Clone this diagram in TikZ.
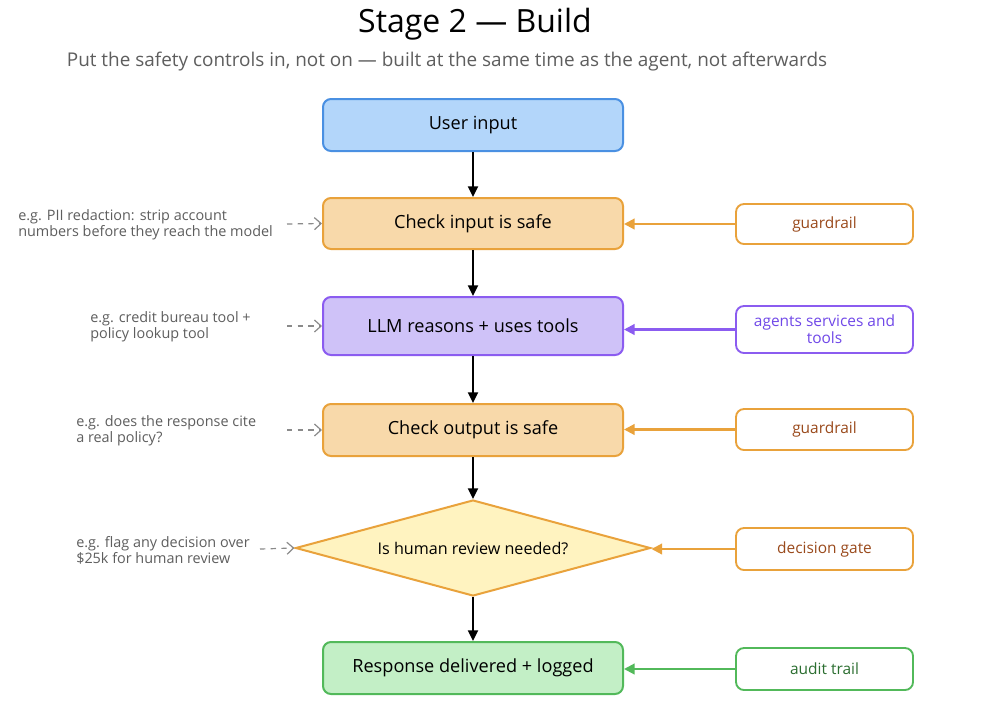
\documentclass[tikz,border=0pt]{standalone}
\usepackage{fontspec}
\setmainfont{Open Sans}
\usetikzlibrary{arrows.meta,shapes.geometric,calc}
\definecolor{bluefill}{HTML}{B3D6FA}
\definecolor{blueline}{HTML}{4A90E2}
\definecolor{orfill}{HTML}{F8D9AA}
\definecolor{orline}{HTML}{E9A23B}
\definecolor{pufill}{HTML}{CFC2F8}
\definecolor{puline}{HTML}{8B5CF0}
\definecolor{yefill}{HTML}{FFF3C0}
\definecolor{grfill}{HTML}{C3EFC6}
\definecolor{grline}{HTML}{52B95A}
\definecolor{browntxt}{HTML}{9A4A1C}
\definecolor{putxt}{HTML}{7048E8}
\definecolor{grtxt}{HTML}{2B6E30}
\definecolor{graytxt}{HTML}{5E5E5E}
\definecolor{grayarr}{HTML}{8A8A8A}
\tikzset{
  x=0.75pt, y=-0.75pt,
  mainbox/.style={draw, rounded corners=6pt, line width=1.5pt, minimum width=225pt, inner sep=0pt, font=\fontsize{13.6}{16}\selectfont},
  sidebox/.style={draw, fill=white, rounded corners=6pt, line width=1.4pt, minimum width=132.75pt, inner sep=0pt, align=center, font=\fontsize{11.6}{12.8}\selectfont},
  annot/.style={anchor=west, align=left, inner sep=0pt, text=graytxt, font=\fontsize{10.8}{12}\selectfont},
  flow/.style={-{Triangle[length=8pt,width=7.5pt]}, line width=1.6pt, black},
  side/.style={-{Triangle[length=8pt,width=8pt]}, line width=1.6pt},
  hint/.style={-{Straight Barb[length=5pt,width=9pt]}, line width=0.9pt, grayarr, dash pattern=on 4pt off 4pt},
}
\begin{document}
\begin{tikzpicture}
\useasboundingbox[fill=white] (0,0) rectangle (999,719);
% title
\node[font=\fontsize{24}{28}\selectfont] (title) at (475,24) {Stage 2 — Build};
\node[text=graytxt, font=\fontsize{14.2}{16}\selectfont] (subtitle) at (447,62) {Put the safety controls in, not on — built at the same time as the agent, not afterwards};
% main flow
\node[mainbox, fill=bluefill, draw=blueline, minimum height=39pt] (user) at (473,125) {User input};
\node[mainbox, fill=orfill, draw=orline, minimum height=38.25pt] (chkin) at (473,223.5) {Check input is safe};
\node[mainbox, fill=pufill, draw=puline, minimum height=43.5pt] (llm) at (473,326) {LLM reasons + uses tools};
\node[mainbox, fill=orfill, draw=orline, minimum height=39pt] (chkout) at (473,430) {Check output is safe};
\node[diamond, draw=orline, fill=yefill, line width=1.5pt, inner sep=0pt, minimum width=266.25pt, minimum height=72pt, aspect=3.7, font=\fontsize{12.1}{14}\selectfont] (gate) at (473,548) {Is human review needed?};
\node[mainbox, fill=grfill, draw=grline, minimum height=39pt] (resp) at (473,668) {Response delivered + logged};
\draw[flow] (user) -- (chkin);
\draw[flow] (chkin) -- (llm);
\draw[flow] (llm) -- (chkout);
\draw[flow] (chkout) -- (gate);
\draw[flow] (gate) -- (resp);
% side boxes
\node[sidebox, draw=orline, text=browntxt, minimum height=30pt] (g1) at (824.5,224) {guardrail};
\node[sidebox, draw=puline, text=putxt, minimum height=35.25pt] (tools) at (824.5,329.5) {agents services and\\tools};
\node[sidebox, draw=orline, text=browntxt, minimum height=30.75pt] (g2) at (824.5,429.5) {guardrail};
\node[sidebox, draw=orline, text=browntxt, minimum height=31.5pt] (dg) at (824.5,549) {decision gate};
\node[sidebox, draw=grline, text=grtxt, minimum height=31.5pt] (audit) at (824.5,669) {audit trail};
\draw[side, orline] (g1.west) -- (g1.west -| chkin.east);
\draw[side, puline] (tools.west) -- (tools.west -| llm.east);
\draw[side, orline] (g2.west) -- (g2.west -| chkout.east);
\draw[side, orline] (dg.west) -- (dg.west -| gate.east);
\draw[side, grline] (audit.west) -- (audit.west -| resp.east);
% annotations
\node[annot] (a1) at (18,225) {e.g. PII redaction: strip account\\numbers before they reach the model};
\node[annot] (a2) at (90,327) {e.g. credit bureau tool +\\policy lookup tool};
\node[annot] (a3) at (76,431) {e.g. does the response cite\\a real policy?};
\node[annot] (a4) at (76,550) {e.g. flag any decision over\\\$25k for human review};
\coordinate (h1) at (287,224);
\coordinate (h2) at (287,326);
\coordinate (h3) at (287,430);
\coordinate (h4) at (260,549);
\draw[hint] (h1) -- (chkin.west);
\draw[hint] (h2) -- (llm.west);
\draw[hint] (h3) -- (chkout.west);
\draw[hint] (h4) -- (gate.west);
\end{tikzpicture}
\end{document}
